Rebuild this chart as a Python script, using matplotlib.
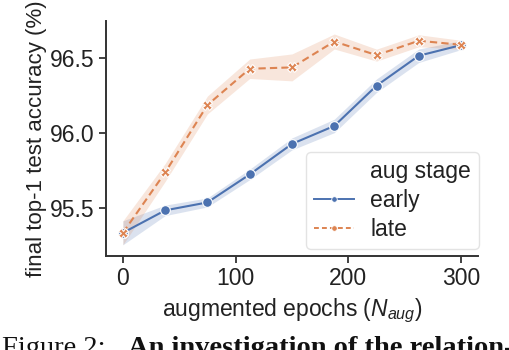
import matplotlib
matplotlib.use("Agg")
from matplotlib import pyplot as plt
from matplotlib.lines import Line2D

# data
epochs = [0, 37.5, 75, 112.5, 150, 187.5, 225, 262.5, 300]
early_acc = [95.335, 95.485, 95.538, 95.725, 95.929, 96.049, 96.318, 96.518, 96.589]
early_err = [0.08, 0.035, 0.03, 0.035, 0.04, 0.045, 0.045, 0.045, 0.03]
late_acc = [95.335, 95.738, 96.189, 96.431, 96.44, 96.613, 96.522, 96.618, 96.591]
late_err = [0.08, 0.06, 0.06, 0.065, 0.09, 0.05, 0.04, 0.04, 0.03]

blue = '#4C72B0'
orange = '#DD8452'
dark = '#333333'
fs = 16.5

plt.rcParams['font.family'] = ['Liberation Sans', 'DejaVu Sans']
plt.rcParams['mathtext.fontset'] = 'custom'
plt.rcParams['mathtext.rm'] = 'Liberation Sans'
plt.rcParams['mathtext.it'] = 'Liberation Sans:italic'

fig = plt.figure(figsize=(5.1, 3.5), dpi=100)
ax = fig.add_axes([106/510, 1 - 256/350, (478 - 106)/510, (256 - 21)/350])

# confidence bands
lo = [a - e for a, e in zip(early_acc, early_err)]
hi = [a + e for a, e in zip(early_acc, early_err)]
ax.fill_between(epochs, lo, hi, color=blue, alpha=0.2, lw=0)
lo = [a - e for a, e in zip(late_acc, late_err)]
hi = [a + e for a, e in zip(late_acc, late_err)]
ax.fill_between(epochs, lo, hi, color=orange, alpha=0.2, lw=0)

ax.plot(epochs, early_acc, color=blue, lw=1.5, marker='o', ms=7,
        mec='white', mew=0.8)
ax.plot(epochs, late_acc, color=orange, lw=1.5, ls=(0, (3.5, 2)), marker='X',
        ms=7, mec='white', mew=0.8)

ax.set_xlim(-15, 315)
ax.set_ylim(95.18, 96.75)
ax.set_xticks([0, 100, 200, 300])
ax.set_yticks([95.5, 96.0, 96.5])
ax.set_yticklabels(['95.5', '96.0', '96.5'])

for side in ['top', 'right']:
    ax.spines[side].set_visible(False)
for side in ['left', 'bottom']:
    ax.spines[side].set_color(dark)
    ax.spines[side].set_linewidth(1.4)
ax.tick_params(colors=dark, labelcolor='#222222', labelsize=fs,
               length=5, width=1.3, pad=3)

ax.set_xlabel('augmented epochs ($N_{aug}$)', fontsize=fs, color='#222222', labelpad=5)
ax.set_ylabel('final top-1 test accuracy (%)', fontsize=16, color='#222222', labelpad=2)

# legend with seaborn-like title row
handles = [Line2D([], [], ls='none'),
           Line2D([], [], color=blue, lw=1.4, marker='o', ms=4,
                  mec='white', mew=0.6),
           Line2D([], [], color=orange, lw=1.4, ls=(0, (2.5, 1.6)), marker='o',
                  ms=4, mec='white', mew=0.6)]
ax.legend(handles, ['aug stage', 'early', 'late'], fontsize=fs,
          loc='upper left', bbox_to_anchor=((306 - 106)/372, 1 - (152 - 21)/235),
          borderaxespad=0, handlelength=1.75, handletextpad=0.7,
          labelspacing=0.26, borderpad=0.35, frameon=True,
          edgecolor='#dddddd', labelcolor='#222222')

# caption cut by the bottom edge, as in the reference
fig.text(0.004, -0.015, 'Figure 2:', family='Liberation Serif', fontsize=20.5,
         va='baseline', color='#111111')
fig.text(128/510, -0.015, 'An investigation of the relation-',
         family='Liberation Serif', fontweight='bold', fontsize=20.5,
         va='baseline', color='#111111')

fig.savefig('out.png', dpi=100)
